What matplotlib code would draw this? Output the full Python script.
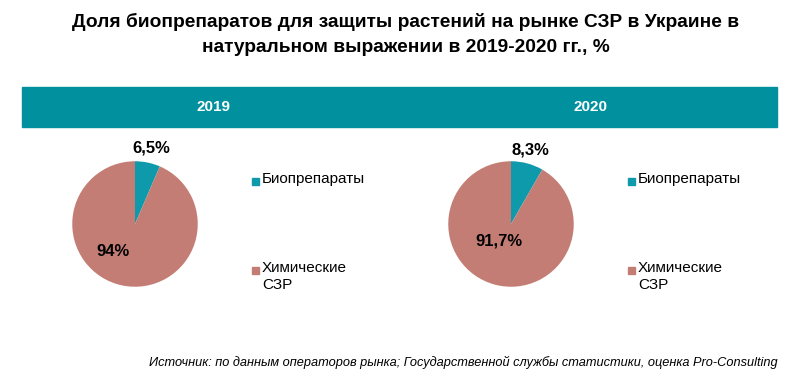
import matplotlib.pyplot as plt
from matplotlib.patches import Rectangle

plt.rcParams['font.family'] = ['Liberation Sans', 'DejaVu Sans']

years = ['2019', '2020']
categories = ['Биопрепараты', 'Химические\nСЗР']
bio_share = [6.5, 8.3]
chem_share = [94.0, 91.7]
bio_labels = ['6,5%', '8,3%']
chem_labels = ['94%', '91,7%']
colors = ['#0E9AAA', '#C47D75']

W, H = 812, 384
fig = plt.figure(figsize=(W / 100, H / 100), dpi=100)

def fx(px):
    return px / W

def fy(py):
    return 1 - py / H

fig.text(0.5, fy(22), 'Доля биопрепаратов для защиты растений на рынке СЗР в Украине в',
         ha='center', va='center', fontsize=13.8, fontweight='bold')
fig.text(0.5, fy(48), 'натуральном выражении в 2019-2020 гг., %',
         ha='center', va='center', fontsize=13.8, fontweight='bold')

# teal band with years
fig.patches.append(Rectangle((fx(22), fy(127)), fx(777) - fx(22), fy(87) - fy(127),
                             transform=fig.transFigure, color='#00909E', zorder=0))
band_x = [214, 591]
for x, y in zip(band_x, years):
    fig.text(fx(x), fy(107), y, ha='center', va='center', color='white',
             fontsize=11, fontweight='bold')

pie_cx = [135, 511]
pie_cy = 224
r = 64
legend_x = [252, 628]
bio_lab_pos = [(151, 148), (530, 150)]
chem_lab_pos = [(113, 252), (499, 241)]

for i in range(2):
    ax = fig.add_axes([fx(pie_cx[i] - r), fy(pie_cy + r), fx(2 * r), fy(pie_cy - r) - fy(pie_cy + r)])
    ax.pie([bio_share[i], chem_share[i]], colors=colors, startangle=90,
           counterclock=False, radius=1.0)
    ax.set_xlim(-1.02, 1.02)
    ax.set_ylim(-1.02, 1.02)
    ax.set_aspect('equal')
    ax.axis('off')

    fig.text(fx(bio_lab_pos[i][0]), fy(bio_lab_pos[i][1]), bio_labels[i],
             ha='center', va='center', fontsize=12, fontweight='bold')
    fig.text(fx(chem_lab_pos[i][0]), fy(chem_lab_pos[i][1]), chem_labels[i],
             ha='center', va='center', fontsize=12, fontweight='bold')

    # legend
    for j, yy in enumerate([181, 270]):
        fig.patches.append(Rectangle((fx(legend_x[i]), fy(yy + 4)), fx(7), fy(yy - 3) - fy(yy + 4),
                                     transform=fig.transFigure, color=colors[j]))
        fig.text(fx(legend_x[i] + 10), fy(yy - 9), categories[j], ha='left', va='top',
                 fontsize=11, linespacing=1.25)

fig.text(fx(778), fy(362), 'Источник: по данным операторов рынка; Государственной службы статистики, оценка Pro-Consulting',
         ha='right', va='center', fontsize=9.2, style='italic')

fig.savefig('out.png', dpi=100)
